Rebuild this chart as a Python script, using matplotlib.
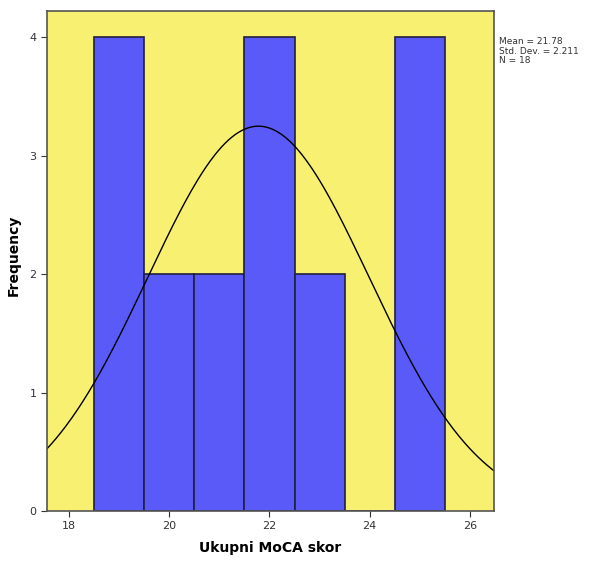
import numpy as np
import matplotlib
matplotlib.use("Agg")
import matplotlib.pyplot as plt

bin_edges = [18.5, 19.5, 20.5, 21.5, 22.5, 23.5, 24.5, 25.5]
counts = [4, 2, 2, 4, 2, 0, 4]
mean_val = 21.78
std_val = 2.211
n_val = 18
xticks = [18, 20, 22, 24, 26]
yticks = [0, 1, 2, 3, 4]

fig = plt.figure(figsize=(5.9, 5.62), dpi=100)
ax = fig.add_axes([47/590, 1-511/562, (494-47)/590, (511-11)/562])
ax.set_facecolor("#F8F070")
lefts = bin_edges[:-1]
widths = np.diff(bin_edges)
ax.bar(lefts, counts, width=widths, align="edge", color="#5A5AF8",
       edgecolor="#202040", linewidth=1.2)

bw = bin_edges[1] - bin_edges[0]
xs = np.linspace(17.56, 26.48, 400)
ys = n_val * bw * np.exp(-0.5 * ((xs - mean_val) / std_val) ** 2) / (std_val * np.sqrt(2 * np.pi))
ax.plot(xs, ys, color="black", linewidth=1.0)

ax.set_xlim(17.56, 26.48)
ax.set_ylim(0, 4.22)
ax.set_xticks(xticks)
ax.set_yticks(yticks)
ax.tick_params(labelsize=8, colors="#333333", length=4)
for s in ax.spines.values():
    s.set_color("#555555")
    s.set_linewidth(1.2)
ax.set_xlabel("Ukupni MoCA skor", fontsize=10, fontweight="bold", va="center")
ax.set_ylabel("Frequency", fontsize=10, fontweight="bold", va="center")
ax.xaxis.set_label_coords(0.499, -0.074)
ax.yaxis.set_label_coords(-0.074, 0.512)

fig.text(499/590, 1-37/562,
         f"Mean = {mean_val}\nStd. Dev. = {std_val}\nN = {n_val}",
         fontsize=6.5, va="top", ha="left", color="#333333", linespacing=1.1)

fig.savefig("out.png", dpi=100)
